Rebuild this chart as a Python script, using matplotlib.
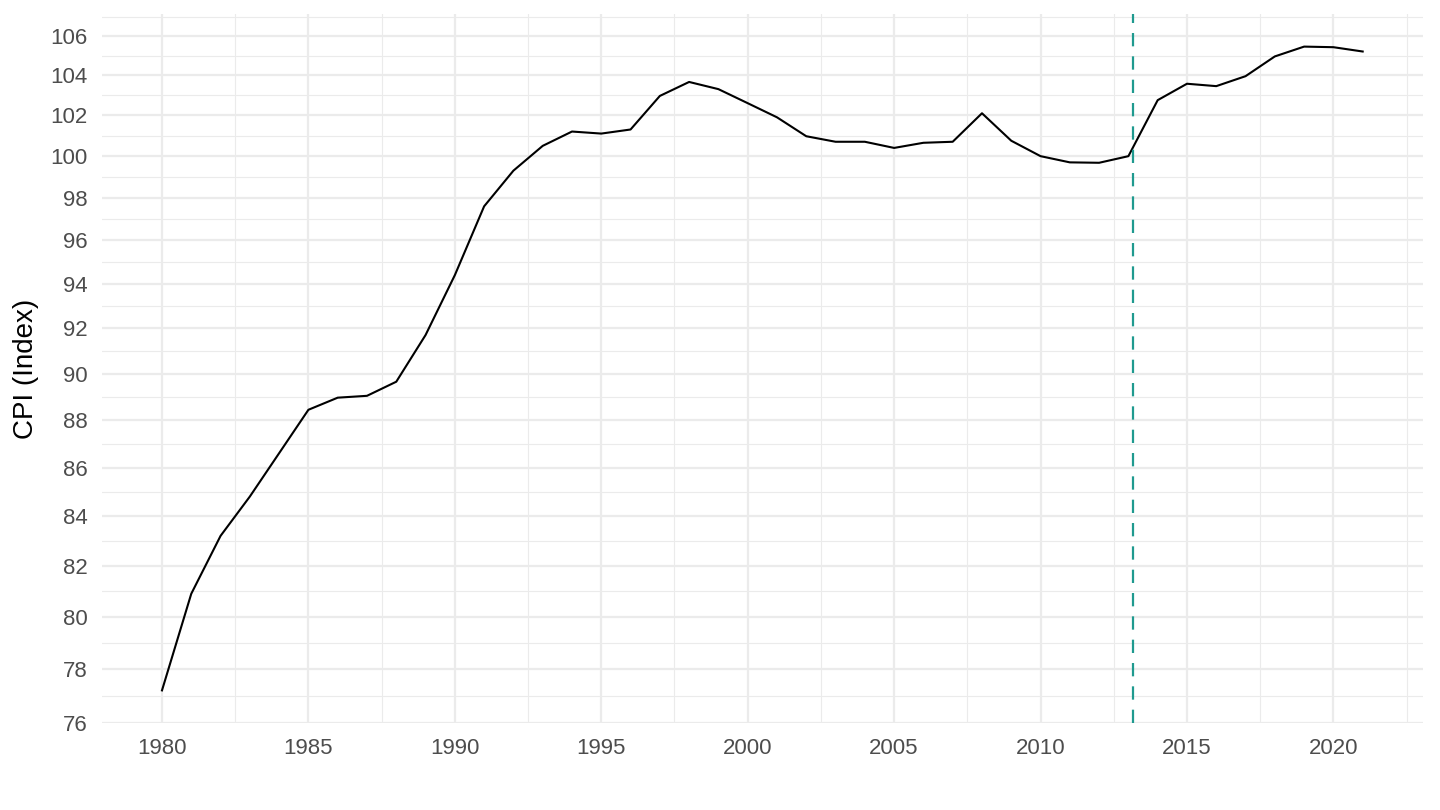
import matplotlib
matplotlib.use('Agg')
import matplotlib.pyplot as plt
import matplotlib.ticker as mticker
import numpy as np

plt.rcParams['font.family'] = ['Liberation Sans', 'DejaVu Sans']

years = list(range(1980, 2022))
cpi = [77.2, 80.9, 83.2, 84.8, 86.6, 88.44, 88.96, 89.04, 89.65, 91.7,
       94.4, 97.6, 99.3, 100.5, 101.2, 101.1, 101.3, 102.96, 103.66, 103.3,
       102.6, 101.9, 100.97, 100.7, 100.7, 100.4, 100.65, 100.7, 102.1, 100.75,
       100.0, 99.7, 99.68, 100.0, 102.75, 103.57, 103.45, 103.95, 104.95, 105.45,
       105.42, 105.2]
vline_year = 2013.17

y_ticks = list(range(76, 107, 2))
x_ticks = list(range(1980, 2021, 5))

fig = plt.figure(figsize=(14.4, 8.1), dpi=100)
ax = fig.add_axes([0.0708, 0.1074, 0.9172, 0.8748])

ax.plot(years, cpi, color='black', linewidth=1.5, zorder=3)
ax.axvline(vline_year, color='#1f9a8f', linewidth=1.6, linestyle=(0, (6, 4.5)), zorder=4)

ax.set_yscale('log')
hi = max(cpi) * np.exp(0.05 * np.log(max(cpi) / min(cpi)))
ax.set_ylim(75.99, hi)
span = years[-1] - years[0]
ax.set_xlim(years[0] - 0.05 * span, years[-1] + 0.05 * span)

ax.yaxis.set_major_locator(mticker.FixedLocator(y_ticks))
ax.yaxis.set_major_formatter(mticker.FixedFormatter([str(t) for t in y_ticks]))
minor_y = [np.sqrt(a * b) for a, b in zip(y_ticks[:-1], y_ticks[1:])] + [np.sqrt(106 * 108)]
ax.yaxis.set_minor_locator(mticker.FixedLocator(minor_y))
ax.yaxis.set_minor_formatter(mticker.NullFormatter())

ax.xaxis.set_major_locator(mticker.FixedLocator(x_ticks))
ax.xaxis.set_minor_locator(mticker.FixedLocator([t + 2.5 for t in range(1975, 2025, 5)]))

ax.grid(True, which='major', color='#ebebeb', linewidth=1.6)
ax.grid(True, which='minor', color='#ebebeb', linewidth=0.8)
ax.set_axisbelow(True)
for s in ax.spines.values():
    s.set_visible(False)

ax.tick_params(which='both', length=0)
ax.tick_params(axis='x', labelsize=16, labelcolor='#4d4d4d', pad=10.5)
ax.tick_params(axis='y', labelsize=16, labelcolor='#4d4d4d', pad=10.5)
ax.set_ylabel('CPI (Index)', fontsize=20, labelpad=8)

fig.savefig('out.png', dpi=100)
